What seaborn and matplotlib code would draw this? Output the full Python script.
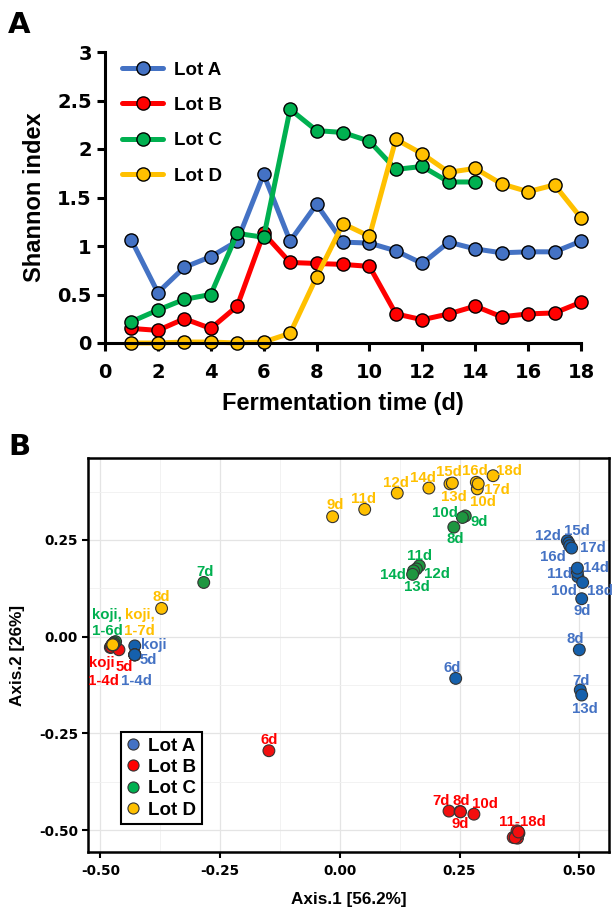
import numpy as np
import pandas as pd
import matplotlib
matplotlib.use("Agg")
import matplotlib.pyplot as plt
from matplotlib.lines import Line2D
import seaborn as sns

sns.set_style("ticks")
plt.rcParams['font.family'] = ['Liberation Sans', 'DejaVu Sans']
plt.rcParams['font.weight'] = 'bold'
for k in ['text.color', 'axes.labelcolor', 'xtick.color', 'ytick.color', 'axes.edgecolor']:
    plt.rcParams[k] = 'black'

# ---------------- Panel A data ----------------
days = list(range(1, 19))
lot_a = [1.06, 0.52, 0.78, 0.89, 1.05, 1.74, 1.05, 1.43, 1.04, 1.03, 0.95, 0.82, 1.04, 0.97, 0.93, 0.94, 0.94, 1.05]
lot_b = [0.15, 0.13, 0.25, 0.15, 0.38, 1.13, 0.83, 0.82, 0.81, 0.79, 0.30, 0.24, 0.30, 0.38, 0.27, 0.30, 0.31, 0.42]
lot_c = [0.22, 0.34, 0.45, 0.50, 1.13, 1.09, 2.41, 2.19, 2.17, 2.08, 1.79, 1.82, 1.66, 1.66]
lot_d = [0.00, 0.00, 0.01, 0.01, 0.00, 0.01, 0.10, 0.68, 1.23, 1.10, 2.10, 1.95, 1.76, 1.80, 1.64, 1.56, 1.63, 1.29]
lots = ["Lot A", "Lot B", "Lot C", "Lot D"]

# ---------------- Panel B data ----------------
pcoa_a_x = [-0.428, -0.428, -0.428, -0.428, -0.428, -0.428, 0.242, 0.502, 0.500, 0.505, 0.497, 0.496, 0.475, 0.505, 0.496, 0.478, 0.480, 0.484, 0.507]
pcoa_a_y = [-0.024, -0.047, -0.047, -0.047, -0.047, -0.047, -0.108, -0.138, -0.034, 0.098, 0.155, 0.166, 0.248, -0.151, 0.177, 0.242, 0.235, 0.229, 0.140]
pcoa_b_x = [-0.478, -0.476, -0.479, -0.474, -0.477, -0.461, -0.148, 0.228, 0.251, 0.252, 0.280, 0.362, 0.371, 0.370, 0.374, 0.368, 0.372, 0.366, 0.373]
pcoa_b_y = [-0.026, -0.024, -0.028, -0.025, -0.027, -0.034, -0.295, -0.451, -0.452, -0.453, -0.459, -0.519, -0.521, -0.502, -0.508, -0.515, -0.512, -0.520, -0.505]
pcoa_c_x = [-0.470, -0.471, -0.469, -0.472, -0.470, -0.468, -0.471, -0.284, 0.238, 0.262, 0.256, 0.166, 0.160, 0.154, 0.152]
pcoa_c_y = [-0.015, -0.016, -0.014, -0.017, -0.015, -0.013, -0.016, 0.140, 0.283, 0.312, 0.308, 0.183, 0.175, 0.170, 0.161]
pcoa_d_x = [-0.474, -0.473, -0.475, -0.472, -0.474, -0.473, -0.475, -0.474, -0.372, -0.015, 0.287, 0.052, 0.120, 0.230, 0.186, 0.235, 0.285, 0.289, 0.320]
pcoa_d_y = [-0.020, -0.019, -0.021, -0.020, -0.022, -0.019, -0.020, -0.021, 0.073, 0.310, 0.382, 0.329, 0.371, 0.395, 0.384, 0.397, 0.399, 0.395, 0.416]

# point labels: (lot, text, x, y)
labels_b = [
    ("Lot D", "9d", -0.010, 0.341), ("Lot D", "11d", 0.049, 0.356), ("Lot D", "12d", 0.117, 0.398),
    ("Lot D", "14d", 0.173, 0.411), ("Lot D", "15d", 0.228, 0.425), ("Lot D", "16d", 0.282, 0.428),
    ("Lot D", "18d", 0.353, 0.428), ("Lot D", "17d", 0.327, 0.378), ("Lot D", "13d", 0.238, 0.360),
    ("Lot D", "10d", 0.298, 0.347), ("Lot D", "8d", -0.372, 0.103), ("Lot D", "koji,\n1-7d", -0.418, 0.036),
    ("Lot C", "7d", -0.282, 0.168), ("Lot C", "koji,\n1-6d", -0.486, 0.036), ("Lot C", "10d", 0.219, 0.319),
    ("Lot C", "9d", 0.292, 0.296), ("Lot C", "8d", 0.242, 0.252), ("Lot C", "11d", 0.166, 0.209),
    ("Lot C", "12d", 0.202, 0.162), ("Lot C", "14d", 0.111, 0.160), ("Lot C", "13d", 0.160, 0.129),
    ("Lot A", "12d", 0.435, 0.259), ("Lot A", "15d", 0.495, 0.274), ("Lot A", "16d", 0.444, 0.207),
    ("Lot A", "17d", 0.528, 0.229), ("Lot A", "14d", 0.534, 0.177), ("Lot A", "11d", 0.458, 0.161),
    ("Lot A", "10d", 0.468, 0.119), ("Lot A", "18d", 0.544, 0.119), ("Lot A", "9d", 0.507, 0.066),
    ("Lot A", "8d", 0.491, -0.007), ("Lot A", "7d", 0.503, -0.114), ("Lot A", "13d", 0.511, -0.187),
    ("Lot A", "6d", 0.235, -0.080), ("Lot A", "koji", -0.388, -0.022), ("Lot A", "5d", -0.399, -0.060),
    ("Lot A", "1-4d", -0.424, -0.115),
    ("Lot B", "koji", -0.497, -0.067), ("Lot B", "5d", -0.449, -0.079), ("Lot B", "1-4d", -0.493, -0.115),
    ("Lot B", "6d", -0.148, -0.267), ("Lot B", "7d", 0.211, -0.425), ("Lot B", "8d", 0.253, -0.425),
    ("Lot B", "10d", 0.303, -0.433), ("Lot B", "9d", 0.251, -0.485), ("Lot B", "11-18d", 0.381, -0.478),
]

line_colors = {"Lot A": "#4472C4", "Lot B": "#FF0000", "Lot C": "#00B050", "Lot D": "#FFC000"}
point_colors = {"Lot A": "#1560AC", "Lot B": "#F20F0F", "Lot C": "#1E9640", "Lot D": "#FFC000"}
label_colors = {"Lot A": "#4472C4", "Lot B": "#FF0000", "Lot C": "#00B050", "Lot D": "#FFC000"}

# ---------------- build frames ----------------
rows = []
for lot, vals in zip(lots, [lot_a, lot_b, lot_c, lot_d]):
    for d, v in zip(days, vals):
        rows.append({"day": d, "shannon": v, "Lot": lot})
df_a = pd.DataFrame(rows)

rows = []
for lot, xs, ys in zip(lots, [pcoa_a_x, pcoa_b_x, pcoa_c_x, pcoa_d_x], [pcoa_a_y, pcoa_b_y, pcoa_c_y, pcoa_d_y]):
    for x, y in zip(xs, ys):
        rows.append({"ax1": x, "ax2": y, "Lot": lot})
df_b = pd.DataFrame(rows)

W, H = 612, 911
fig = plt.figure(figsize=(W / 100, H / 100), dpi=100)
TICKFONT = ['DejaVu Sans']

# ---------------- Panel A ----------------
axA = fig.add_axes([105 / W, 1 - 343 / H, 476 / W, 291 / H])
sns.lineplot(data=df_a, x="day", y="shannon", hue="Lot", hue_order=lots, palette=line_colors,
             marker="o", markersize=9.5, markeredgecolor="black", markeredgewidth=1.0,
             linewidth=3.6, ax=axA, clip_on=False, legend=False)
axA.set_xlim(0, 18)
axA.set_ylim(0, 3)
axA.set_xticks(range(0, 19, 2))
axA.set_yticks([0, 0.5, 1, 1.5, 2, 2.5, 3])
axA.set_yticklabels(["0", "0.5", "1", "1.5", "2", "2.5", "3"])
for s in ["top", "right"]:
    axA.spines[s].set_visible(False)
for s in ["left", "bottom"]:
    axA.spines[s].set_linewidth(2.2)
axA.tick_params(axis="both", direction="out", length=5.5, width=2.2, labelsize=14)
axA.tick_params(axis="x", pad=9)
axA.tick_params(axis="y", pad=4)
for lab in axA.get_xticklabels() + axA.get_yticklabels():
    lab.set_fontweight("bold")
    lab.set_family(TICKFONT)
axA.set_xlabel("Fermentation time (d)", fontsize=17, fontweight="bold", labelpad=7)
axA.set_ylabel("Shannon index", fontsize=17, fontweight="bold", labelpad=8)
handles = [Line2D([0], [0], color=line_colors[l], lw=3.6, marker="o", markersize=9.5,
                  markeredgecolor="black", markeredgewidth=1.0) for l in lots]
legA = axA.legend(handles, lots, loc="upper left", bbox_to_anchor=(0.0, 1.025), frameon=False,
                  prop={"weight": "bold", "size": 13.5}, handlelength=2.2, labelspacing=0.97,
                  handletextpad=0.6)

# ---------------- Panel B ----------------
axB = fig.add_axes([88.3 / W, 1 - 851.7 / H, 520.7 / W, 393.4 / H])
axB.set_xlim(-0.525, 0.562)
axB.set_ylim(-0.556, 0.461)
axB.set_xticks([-0.5, -0.25, 0, 0.25, 0.5])
axB.set_xticklabels(["-0.50", "-0.25", "0.00", "0.25", "0.50"])
axB.set_yticks([-0.5, -0.25, 0, 0.25])
axB.set_yticklabels(["-0.50", "-0.25", "0.00", "0.25"])
axB.set_xticks(np.arange(-0.5, 0.56, 0.125), minor=True)
axB.set_yticks(np.arange(-0.5, 0.45, 0.125), minor=True)
axB.grid(which="major", color="#E4E4E4", linewidth=0.9)
axB.grid(which="minor", color="#F0F0F0", linewidth=0.6)
axB.set_axisbelow(True)
axB.tick_params(which="minor", length=0)
axB.tick_params(which="major", direction="out", length=4, width=1.5, labelsize=9.8)
axB.tick_params(axis="x", pad=5)
for lab in axB.get_xticklabels() + axB.get_yticklabels():
    lab.set_fontweight("bold")
    lab.set_family(TICKFONT)
for s in axB.spines.values():
    s.set_linewidth(1.8)

sns.scatterplot(data=df_b, x="ax1", y="ax2", hue="Lot", hue_order=lots, palette=point_colors,
                s=72, edgecolor="#333333", linewidth=0.8, ax=axB, legend=False, zorder=3)
axB.set_xlabel("Axis.1 [56.2%]", fontsize=12.3, fontweight="bold", labelpad=10)
axB.set_ylabel("Axis.2 [26%]", fontsize=12.3, fontweight="bold", labelpad=10)

for lot, txt, x, y in labels_b:
    axB.text(x, y, txt, color=label_colors[lot], fontsize=10.8, fontweight="bold",
             ha="center", va="center", linespacing=1.2, zorder=4)

hB = [Line2D([0], [0], linestyle="none", marker="o", markersize=8, markerfacecolor=label_colors[l],
             markeredgecolor="#333333", markeredgewidth=0.8) for l in lots]
legB = axB.legend(hB, lots, loc="lower left", bbox_to_anchor=(0.063, 0.07), frameon=True,
                  prop={"weight": "bold", "size": 13.5}, handlelength=0.7, handletextpad=0.45,
                  labelspacing=0.22, borderpad=0.3, borderaxespad=0.0, fancybox=False,
                  edgecolor="black", framealpha=1)
legB.get_frame().set_linewidth(1.5)

# panel letters
fig.text(8 / W, 1 - 25 / H, "A", fontsize=21, fontweight="bold", va="center", ha="left", family=TICKFONT)
fig.text(8 / W, 1 - 447 / H, "B", fontsize=21, fontweight="bold", va="center", ha="left", family=TICKFONT)

fig.savefig("out.png", dpi=100)
